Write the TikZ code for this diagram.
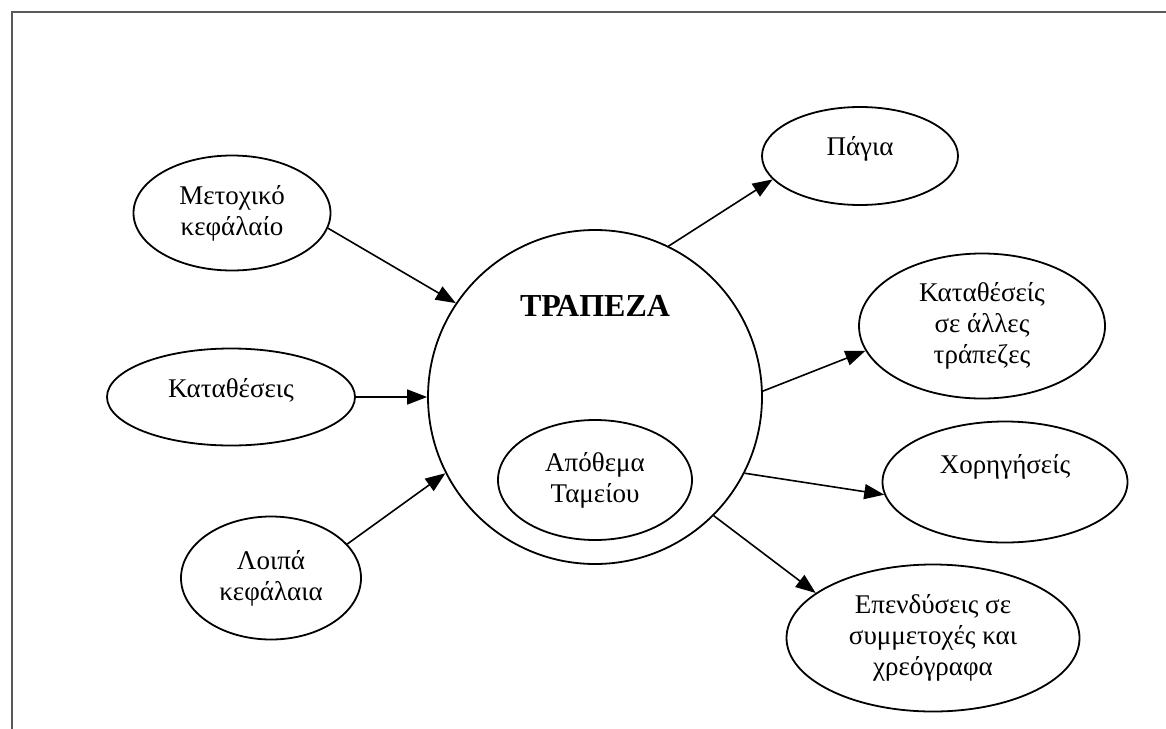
\documentclass[tikz,border=0pt]{standalone}
\usepackage{fontspec}
\setmainfont{Liberation Serif}
\usetikzlibrary{shapes.geometric, arrows.meta}

\begin{document}
\begin{tikzpicture}[x=0.5pt, y=-0.5pt,
    bub/.style={ellipse, draw, line width=0.9pt, align=center, inner sep=1pt,
                font=\fontsize{13.5}{15.5}\selectfont},
    lift/.style={text height=10pt, text depth=#1},
    arr/.style={-{Triangle[length=10pt, width=7.5pt]}, line width=0.8pt}
  ]
  \useasboundingbox (0,0) rectangle (1166,728);
  % outer frame
  \draw[gray!70!black, line width=1pt] (1190,12) -- (12,12) -- (12,750);
  % sources
  \node[bub, minimum width=98.5pt, minimum height=57.5pt] (met) at (232,213) {Μετοχικό\\κεφάλαίο};
  \node[bub, lift=10pt, minimum width=124pt, minimum height=48.5pt] (dep) at (231,397) {Καταθέσεις};
  \node[bub, minimum width=90pt, minimum height=61.5pt] (loi) at (271,578) {Λοιπά\\κεφάλαια};
  % the bank
  \node[circle, draw, line width=0.9pt, minimum size=167pt] (bank) at (595,397) {};
  \node[font=\fontsize{16}{18}\selectfont\bfseries] (title) at (595,306) {ΤΡΑΠΕΖΑ};
  \node[bub, minimum width=97pt, minimum height=60pt] (cash) at (595,480) {Απόθεμα\\Ταμείου};
  % uses
  \node[bub, lift=11pt, minimum width=98pt, minimum height=49pt] (pag) at (860,156) {Πάγια};
  \node[bub, minimum width=123pt, minimum height=72.5pt] (oth) at (982,326) {Καταθέσείς\\σε άλλες\\τράπεζες};
  \node[bub, lift=19pt, minimum width=122.5pt, minimum height=60.5pt] (xor) at (1005,482) {Χορηγήσείς};
  \node[bub, minimum width=146.5pt, minimum height=73.5pt] (inv) at (933,638) {Επενδύσεις σε\\συμμετοχές και\\χρεόγραφα};
  % arrows in
  \draw[arr] (met.-9) -- (bank.146);
  \draw[arr] (dep) -- (bank);
  \draw[arr] (loi.24) -- (bank.207);
  % arrows out
  \foreach \a/\n/\b in {64/pag/195, 2/oth/192, -27/xor/186, -45/inv/159}
    \draw[arr] (bank.\a) -- (\n.\b);
\end{tikzpicture}
\end{document}
